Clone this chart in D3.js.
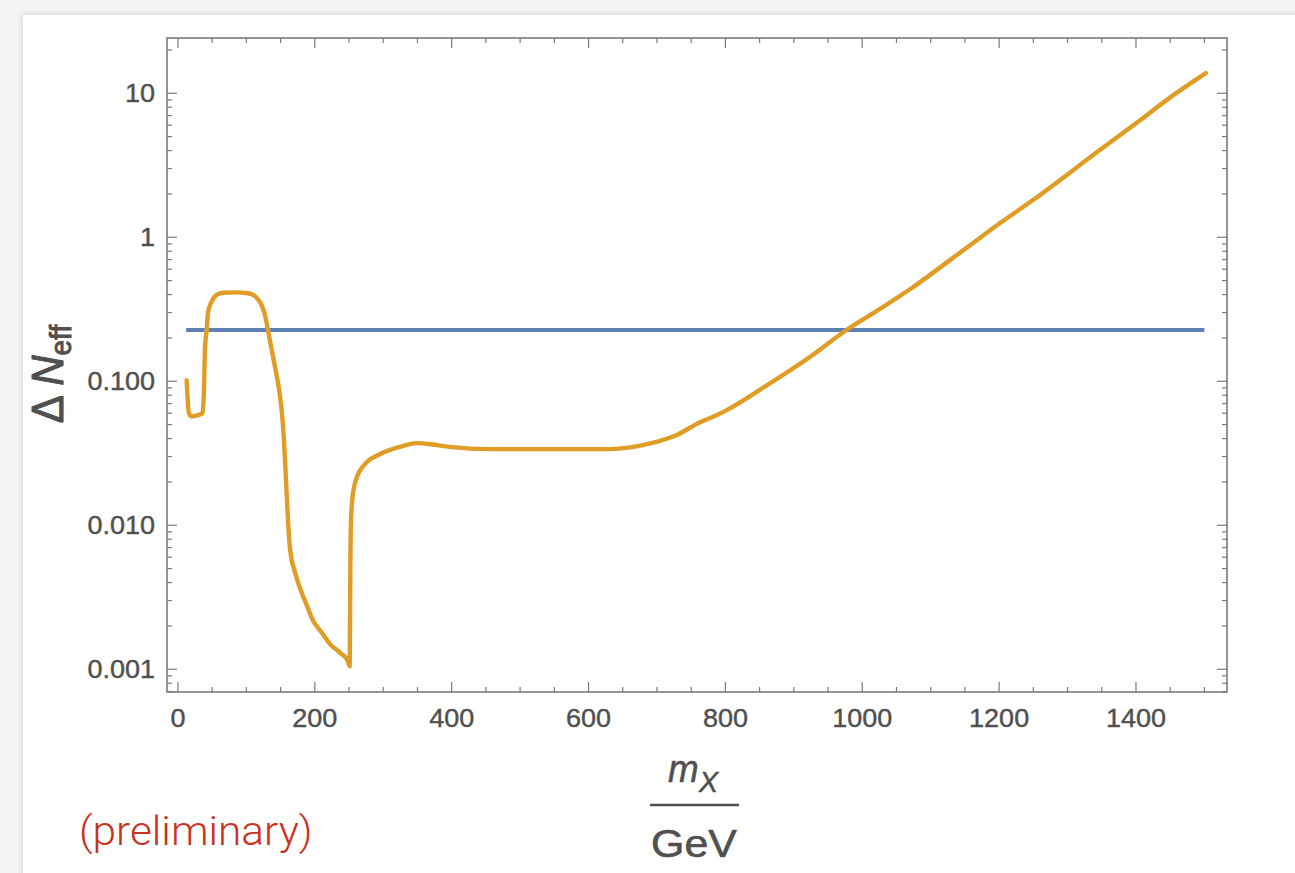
<!DOCTYPE html>
<html>
<head>
<meta charset="utf-8">
<script src="https://cdnjs.cloudflare.com/ajax/libs/d3/7.8.5/d3.min.js"></script>
<style>
  html, body { margin: 0; padding: 0; background: #f3f5f5; }
  svg { display: block; }
</style>
</head>
<body>
<div id="chart"></div>
<script>
// orange curve: Delta N_eff vs m_X (GeV)
let massGeV = [12.7, 16, 20, 28, 36, 38, 39.5, 42, 44, 49, 56.5, 66, 86, 100, 110, 117, 122, 127, 131, 135, 140, 145, 149,
    152, 154.5, 157, 159, 161, 163, 166, 170, 178, 188, 197, 210, 222, 237, 248, 251,
    252, 253, 255, 258, 263, 270, 280, 291, 305, 324, 349, 370, 397, 456, 544, 631,
    690, 729, 763, 787, 802, 861, 924, 977, 1016, 1074, 1153, 1201, 1250, 1347, 1406, 1445, 1502];
let deltaNeff = [0.1016, 0.060, 0.057, 0.058, 0.060, 0.087, 0.17, 0.227, 0.30, 0.356, 0.398, 0.412, 0.414, 0.41, 0.398, 0.37, 0.34, 0.29, 0.235, 0.185, 0.14, 0.105, 0.08,
    0.06, 0.042, 0.025, 0.016, 0.0105, 0.0075, 0.0058, 0.0049, 0.0037, 0.0028, 0.0022, 0.0018, 0.0015, 0.0013, 0.00115, 0.00105,
    0.006, 0.011, 0.0155, 0.019, 0.0225, 0.0255, 0.0285, 0.0305, 0.0327, 0.035, 0.0372, 0.0365, 0.035, 0.0338, 0.0338, 0.0338,
    0.037, 0.0424, 0.052, 0.058, 0.063, 0.094, 0.148, 0.227, 0.297, 0.45, 0.85, 1.25, 1.82, 4.03, 6.5, 9.0, 13.8];

// blue horizontal bound
let boundMass = [12, 1500];
let boundValue = [0.227, 0.227];

// ticks
let xMajorTicks = [0, 200, 400, 600, 800, 1000, 1200, 1400];
let xMinorTicks = [50, 100, 150, 250, 300, 350, 450, 500, 550, 650, 700, 750, 850, 900, 950,
    1050, 1100, 1150, 1250, 1300, 1350, 1450, 1500];
let yMajorTicks = [0.001, 0.01, 0.1, 1, 10];
let yTickLabels = ["0.001", "0.010", "0.100", "1", "10"];
let yMinorTicks = [0.0007, 0.0008, 0.0009,
    0.002, 0.003, 0.004, 0.005, 0.006, 0.007, 0.008, 0.009,
    0.02, 0.03, 0.04, 0.05, 0.06, 0.07, 0.08, 0.09,
    0.2, 0.3, 0.4, 0.5, 0.6, 0.7, 0.8, 0.9,
    2, 3, 4, 5, 6, 7, 8, 9, 20];

let width = 1295, height = 873;
let plotLeft = 167, plotRight = 1227, plotTop = 38, plotBottom = 692;
let axisGray = "#7a7a7a", textGray = "#505050";

let svg = d3.select("#chart").append("svg")
    .attr("width", width)
    .attr("height", height);

// card with soft shadow
let defs = svg.append("defs");
let shadow = defs.append("filter").attr("id", "shadow")
    .attr("x", "-5%").attr("y", "-5%").attr("width", "110%").attr("height", "110%");
shadow.append("feGaussianBlur").attr("in", "SourceAlpha").attr("stdDeviation", 3);
shadow.append("feComponentTransfer").append("feFuncA").attr("type", "linear").attr("slope", 0.18);
let merge = shadow.append("feMerge");
merge.append("feMergeNode");
merge.append("feMergeNode").attr("in", "SourceGraphic");

svg.append("rect")
    .attr("x", 23).attr("y", 15)
    .attr("width", 1320).attr("height", 900)
    .attr("fill", "white")
    .attr("filter", "url(#shadow)");

let x = d3.scaleLinear().domain([-16, 1533]).range([plotLeft, plotRight]);
let y = d3.scaleLog().domain([0.000695, 24.2]).range([plotBottom, plotTop]);

let frame = svg.append("g");

// x ticks, bottom and top
function xTicks(values, len) {
    frame.selectAll(null).data(values).enter().append("line")
        .attr("x1", d => x(d)).attr("x2", d => x(d))
        .attr("y1", plotBottom).attr("y2", plotBottom - len)
        .attr("stroke", axisGray).attr("stroke-width", 1.2);
    frame.selectAll(null).data(values).enter().append("line")
        .attr("x1", d => x(d)).attr("x2", d => x(d))
        .attr("y1", plotTop).attr("y2", plotTop + len)
        .attr("stroke", axisGray).attr("stroke-width", 1.2);
}
xTicks(xMajorTicks, 10);
xTicks(xMinorTicks, 5);

// y ticks, left and right
function yTicks(values, len) {
    frame.selectAll(null).data(values).enter().append("line")
        .attr("y1", d => y(d)).attr("y2", d => y(d))
        .attr("x1", plotLeft).attr("x2", plotLeft + len)
        .attr("stroke", axisGray).attr("stroke-width", 1.2);
    frame.selectAll(null).data(values).enter().append("line")
        .attr("y1", d => y(d)).attr("y2", d => y(d))
        .attr("x1", plotRight).attr("x2", plotRight - len)
        .attr("stroke", axisGray).attr("stroke-width", 1.2);
}
yTicks(yMajorTicks, 10);
yTicks(yMinorTicks, 5);

frame.append("rect")
    .attr("x", plotLeft).attr("y", plotTop)
    .attr("width", plotRight - plotLeft).attr("height", plotBottom - plotTop)
    .attr("fill", "none")
    .attr("stroke", axisGray)
    .attr("stroke-width", 1.6);

// tick labels (slightly widened like the picture)
frame.selectAll(null).data(xMajorTicks).enter().append("text")
    .attr("transform", d => "translate(" + x(d) + "," + 727 + ") scale(1.08,1)")
    .attr("text-anchor", "middle")
    .attr("font-family", "Liberation Sans, Arial, sans-serif")
    .attr("font-size", 25)
    .attr("fill", textGray)
    .attr("stroke", textGray).attr("stroke-width", 0.4)
    .text(d => d);

frame.selectAll(null).data(yMajorTicks).enter().append("text")
    .attr("transform", d => "translate(" + 155 + "," + (y(d) + 9) + ") scale(1.08,1)")
    .attr("text-anchor", "end")
    .attr("font-family", "Liberation Sans, Arial, sans-serif")
    .attr("font-size", 25)
    .attr("fill", textGray)
    .attr("stroke", textGray).attr("stroke-width", 0.4)
    .text((d, i) => yTickLabels[i]);

// lines
let line = d3.line()
    .x(d => x(d[0]))
    .y(d => y(d[1]))
    .curve(d3.curveMonotoneX);

svg.append("path")
    .datum(boundMass.map((m, i) => [m, boundValue[i]]))
    .attr("d", line)
    .attr("fill", "none")
    .attr("stroke", "#5e81b5")
    .attr("stroke-width", 4.2);

svg.append("path")
    .datum(massGeV.map((m, i) => [m, deltaNeff[i]]))
    .attr("d", line)
    .attr("fill", "none")
    .attr("stroke", "#e09c24")
    .attr("stroke-width", 4.4)
    .attr("stroke-linejoin", "round")
    .attr("stroke-linecap", "round");

// y axis title
let yTitle = svg.append("text")
    .attr("transform", "translate(63,374) scale(1.05,1) rotate(-90)")
    .attr("text-anchor", "middle")
    .attr("font-family", "Liberation Sans, Arial, sans-serif")
    .attr("font-size", 42)
    .attr("fill", textGray)
    .attr("stroke", textGray).attr("stroke-width", 0.9);
yTitle.append("tspan").text("\u0394 ");
yTitle.append("tspan").attr("font-style", "italic").text("N");
yTitle.append("tspan").attr("font-size", 28).attr("dy", 8).text("eff");

// x axis title as a fraction
let xTitle = svg.append("text")
    .attr("transform", "translate(693,782) scale(0.97,1)")
    .attr("text-anchor", "middle")
    .attr("font-family", "Liberation Sans, Arial, sans-serif")
    .attr("font-style", "italic")
    .attr("font-size", 38)
    .attr("fill", textGray)
    .attr("stroke", textGray).attr("stroke-width", 0.5);
xTitle.append("tspan").text("m");
xTitle.append("tspan").attr("font-size", 30).attr("dy", 10).text("X");

svg.append("line")
    .attr("x1", 650).attr("x2", 739)
    .attr("y1", 805).attr("y2", 805)
    .attr("stroke", textGray)
    .attr("stroke-width", 2.4);

svg.append("text")
    .attr("transform", "translate(694,857) scale(1.13,1)")
    .attr("text-anchor", "middle")
    .attr("font-family", "Liberation Sans, Arial, sans-serif")
    .attr("font-size", 38)
    .attr("fill", textGray)
    .attr("stroke", textGray).attr("stroke-width", 0.6)
    .text("GeV");

// note
svg.append("text")
    .attr("transform", "translate(79,845) scale(1.06,1)")
    .attr("font-family", "Roboto, Lato, sans-serif")
    .attr("font-weight", 300)
    .attr("font-size", 40)
    .attr("fill", "#c8321e")
    .text("(preliminary)");
</script>
</body>
</html>
